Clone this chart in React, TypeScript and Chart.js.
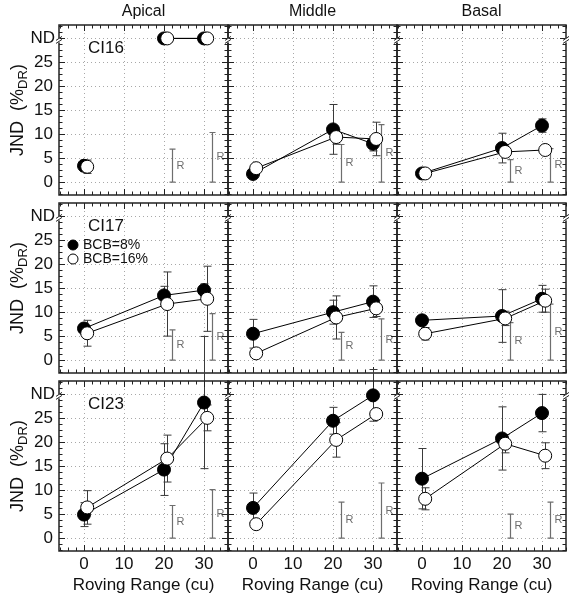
import React, { useEffect, useRef } from 'react';
import { Chart, registerables } from 'chart.js';

Chart.register(...registerables);

// ---------------- data ----------------
const SUBJECTS = ['CI16', 'CI17', 'CI23'];
const REGIONS = ['Apical', 'Middle', 'Basal'];
const ROVING = [0, 20, 30];
const OPEN_SHIFT = 0.8;
const ND = 30;
const Y_TICKS = [0, 5, 10, 15, 20, 25];
const Y_TICK_LABELS = ['0', '5', '10', '15', '20', '25'];
const X_TICKS = [0, 10, 20, 30];
const X_TICK_LABELS = ['0', '10', '20', '30'];
const R_X = [22, 32];

// [apical, middle, basal] for each subject
const CI16_BCB8 = [[3.4, ND, ND], [1.7, 11.0, 8.0], [1.8, 7.1, 11.8]];
const CI16_BCB16 = [[3.2, ND, ND], [2.9, 9.4, 9.0], [1.8, 6.3, 6.7]];
const CI17_BCB8 = [[6.6, 13.5, 14.6], [5.5, 10.0, 12.2], [8.3, 9.2, 12.8]];
const CI17_BCB16 = [[5.6, 11.7, 12.8], [1.4, 8.9, 10.8], [5.5, 8.7, 12.4]];
const CI23_BCB8 = [[4.9, 14.3, 28.3], [6.3, 24.5, 29.8], [12.4, 20.8, 26.1]];
const CI23_BCB16 = [[6.4, 16.6, 25.1], [2.9, 20.5, 25.9], [8.2, 19.7, 17.2]];

// error half-widths
const CI16_ERR8 = [[1.2, 0, 0], [0.5, 5.2, 1.5], [0.3, 3.1, 1.4]];
const CI16_ERR16 = [[1.4, 0, 0], [0.8, 1.5, 3.5], [0.3, 1.0, 0.3]];
const CI17_ERR8 = [[1.1, 1.9, 1.3], [3.0, 2.5, 3.3], [1.0, 5.5, 2.8]];
const CI17_ERR16 = [[2.7, 6.7, 6.8], [0.3, 4.5, 1.7], [1.3, 1.5, 2.4]];
const CI23_ERR8 = [[2.5, 5.4, 13.8], [3.1, 2.8, 5.4], [6.3, 6.6, 3.9]];
const CI23_ERR16 = [[3.5, 4.9, 2.7], [0.3, 3.6, 1.0], [2.3, 1.9, 2.7]];

// reference (R) bar heights at roving 20 and 30
const CI16_R = [[6.9, 10.35], [7.85, 12.0], [4.7, 7.0]];
const CI17_R = [[6.3, 9.7], [5.8, 8.6], [7.8, 11.7]];
const CI23_R = [[6.8, 10.1], [7.5, 11.5], [5.0, 7.5]];

// no line between roving 0 and 20 (points at ND)
const CI16_GAP = [true, false, false];

const BCB8 = [CI16_BCB8, CI17_BCB8, CI23_BCB8];
const BCB16 = [CI16_BCB16, CI17_BCB16, CI23_BCB16];
const ERR8 = [CI16_ERR8, CI17_ERR8, CI23_ERR8];
const ERR16 = [CI16_ERR16, CI17_ERR16, CI23_ERR16];
const RBARS = [CI16_R, CI17_R, CI23_R];
const GAPS = [CI16_GAP, [false, false, false], [false, false, false]];

// ---------------- layout ----------------
const PAGE_W = 579;
const PAGE_H = 600;
const COL_LEFT = [59, 228, 397];
const ROW_TOP = [25, 203, 381];
const PW = 169;
const PH = 170;
const X_MIN = -6.25, X_MAX = 36;
const Y_MIN = -2.7, Y_MAX = 32.8;
const FONT = "'Liberation Sans', Arial, Helvetica, sans-serif";
const ERR_COLOR = '#3a3a3a';
const R_COLOR = '#6e6e6e';

function makePlugin(row: number, col: number) {
  return {
    id: 'panel_' + row + '_' + col,
    beforeDatasetsDraw(chart: any) {
      const { ctx, chartArea: a, scales } = chart;
      const xs = scales.x, ys = scales.y;
      ctx.save();
      // grid
      ctx.strokeStyle = '#a8a8a8';
      ctx.lineWidth = 1;
      ctx.setLineDash([1, 3]);
      for (const gx of X_TICKS) {
        const px = Math.round(xs.getPixelForValue(gx)) + 0.5;
        ctx.beginPath(); ctx.moveTo(px, a.top); ctx.lineTo(px, a.bottom); ctx.stroke();
      }
      for (const gy of [...Y_TICKS, ND]) {
        const py = Math.round(ys.getPixelForValue(gy)) + 0.5;
        ctx.beginPath(); ctx.moveTo(a.left, py); ctx.lineTo(a.right, py); ctx.stroke();
      }
      ctx.setLineDash([]);
      // R bars
      const rb = RBARS[row][col];
      ctx.strokeStyle = R_COLOR;
      ctx.fillStyle = R_COLOR;
      ctx.lineWidth = 1.2;
      ctx.font = `11px ${FONT}`;
      ctx.textBaseline = 'middle';
      ctx.textAlign = 'left';
      R_X.forEach((rx, i) => {
        const px = Math.round(xs.getPixelForValue(rx)) + 0.5;
        const p0 = ys.getPixelForValue(0);
        const p1 = ys.getPixelForValue(rb[i]);
        ctx.beginPath();
        ctx.moveTo(px, p0); ctx.lineTo(px, p1);
        ctx.moveTo(px - 3, p0); ctx.lineTo(px + 3, p0);
        ctx.moveTo(px - 3, p1); ctx.lineTo(px + 3, p1);
        ctx.stroke();
        ctx.fillText('R', px + 4, (p0 + p1) / 2);
      });
      // error bars
      ctx.strokeStyle = ERR_COLOR;
      ctx.lineWidth = 1;
      const drawErr = (vals: number[], errs: number[], shift: number) => {
        ROVING.forEach((rx, i) => {
          const e = errs[i];
          if (!e) return;
          const px = Math.round(xs.getPixelForValue(rx + shift)) + 0.5;
          const pLo = ys.getPixelForValue(vals[i] - e);
          const pHi = ys.getPixelForValue(vals[i] + e);
          ctx.beginPath();
          ctx.moveTo(px, pLo); ctx.lineTo(px, pHi);
          ctx.moveTo(px - 4, pLo); ctx.lineTo(px + 4, pLo);
          ctx.moveTo(px - 4, pHi); ctx.lineTo(px + 4, pHi);
          ctx.stroke();
        });
      };
      drawErr(BCB8[row][col], ERR8[row][col], 0);
      drawErr(BCB16[row][col], ERR16[row][col], OPEN_SHIFT);
      ctx.restore();
    },
    afterDatasetsDraw(chart: any) {
      const { ctx, chartArea: a, scales } = chart;
      const xs = scales.x, ys = scales.y;
      ctx.save();
      // frame
      ctx.strokeStyle = '#222';
      ctx.lineWidth = 1.5;
      ctx.strokeRect(a.left, a.top, a.right - a.left, a.bottom - a.top);
      // ticks
      ctx.lineWidth = 1;
      ctx.beginPath();
      for (let v = -2.5; v <= 32.5 + 1e-6; v += 1.25) {
        const py = Math.round(ys.getPixelForValue(v)) + 0.5;
        const major = Math.abs(v / 5 - Math.round(v / 5)) < 1e-6;
        const len = major ? 6 : 3.5;
        ctx.moveTo(a.left, py); ctx.lineTo(a.left + len, py);
        ctx.moveTo(a.right, py); ctx.lineTo(a.right - len, py);
      }
      for (let v = -6; v <= 36 + 1e-6; v += 2) {
        const px = Math.round(xs.getPixelForValue(v)) + 0.5;
        const major = Math.abs(v / 10 - Math.round(v / 10)) < 1e-6;
        const len = major ? 6 : 3.5;
        ctx.moveTo(px, a.bottom); ctx.lineTo(px, a.bottom - len);
        ctx.moveTo(px, a.top); ctx.lineTo(px, a.top + len);
      }
      ctx.stroke();
      // axis break marks near ND
      const breakAt = (bx: number) => {
        const by = ys.getPixelForValue(ND) + 2;
        ctx.fillStyle = '#fff';
        ctx.fillRect(bx - 1, by - 2, 2, 4);
        ctx.strokeStyle = '#222';
        ctx.lineWidth = 1;
        ctx.beginPath();
        ctx.moveTo(bx - 3, by); ctx.lineTo(bx + 3, by - 4);
        ctx.moveTo(bx - 3, by + 3); ctx.lineTo(bx + 3, by - 1);
        ctx.stroke();
      };
      breakAt(a.left);
      if (col === 2) breakAt(a.right);

      ctx.fillStyle = '#111';
      // column titles
      if (row === 0) {
        ctx.font = `16px ${FONT}`;
        ctx.textAlign = 'center';
        ctx.textBaseline = 'middle';
        ctx.fillText(REGIONS[col], (a.left + a.right) / 2, a.top - 13);
      }
      // y tick labels and title
      if (col === 0) {
        ctx.font = `17px ${FONT}`;
        ctx.textAlign = 'right';
        ctx.textBaseline = 'middle';
        Y_TICKS.forEach((v, i) => ctx.fillText(Y_TICK_LABELS[i], a.left - 6, ys.getPixelForValue(v)));
        ctx.fillText('ND', a.left - 4, ys.getPixelForValue(ND));
        // rotated y title with subscript
        const main1 = 'JND  (%';
        const sub = 'DR';
        const main2 = ')';
        ctx.font = `18px ${FONT}`;
        const w1 = ctx.measureText(main1).width;
        const w3 = ctx.measureText(main2).width;
        ctx.font = `13px ${FONT}`;
        const w2 = ctx.measureText(sub).width;
        const total = w1 + w2 + w3;
        ctx.translate(18, (a.top + a.bottom) / 2);
        ctx.rotate(-Math.PI / 2);
        ctx.textAlign = 'left';
        ctx.textBaseline = 'middle';
        let cx = -total / 2;
        ctx.font = `18px ${FONT}`;
        ctx.fillText(main1, cx, 0); cx += w1;
        ctx.font = `13px ${FONT}`;
        ctx.fillText(sub, cx, 5); cx += w2;
        ctx.font = `18px ${FONT}`;
        ctx.fillText(main2, cx, 0);
        ctx.setTransform(1, 0, 0, 1, 0, 0);
        // subject label
        ctx.font = `17px ${FONT}`;
        ctx.textAlign = 'left';
        ctx.fillText(SUBJECTS[row], a.left + 29, a.top + 23);
      }
      // legend
      if (row === 1 && col === 0) {
        const lx = a.left + 14;
        const items = [{ t: 'BCB=8%', f: '#000', y: a.top + 42 }, { t: 'BCB=16%', f: '#fff', y: a.top + 56 }];
        ctx.font = `14px ${FONT}`;
        ctx.textAlign = 'left';
        ctx.textBaseline = 'middle';
        items.forEach(it => {
          ctx.beginPath();
          ctx.arc(lx, it.y, 5, 0, Math.PI * 2);
          ctx.fillStyle = it.f;
          ctx.fill();
          ctx.strokeStyle = '#000';
          ctx.lineWidth = 1;
          ctx.stroke();
          ctx.fillStyle = '#111';
          ctx.fillText(it.t, lx + 10, it.y);
        });
      }
      // x tick labels and title
      if (row === 2) {
        ctx.fillStyle = '#111';
        ctx.font = `17px ${FONT}`;
        ctx.textAlign = 'center';
        ctx.textBaseline = 'middle';
        X_TICKS.forEach((v, i) => ctx.fillText(X_TICK_LABELS[i], xs.getPixelForValue(v), a.bottom + 13));
        ctx.font = `17px ${FONT}`;
        ctx.fillText('Roving Range (cu)', (a.left + a.right) / 2, a.bottom + 34);
      }
      ctx.restore();
    },
  };
}

function Panel({ row, col }: { row: number; col: number }) {
  const ref = useRef<HTMLCanvasElement | null>(null);
  useEffect(() => {
    const L = COL_LEFT[col];
    const T = ROW_TOP[row];
    const gap = GAPS[row][col];
    const segColor = (c: any) => (gap && c.p0DataIndex === 0 ? 'rgba(0,0,0,0)' : '#000');
    const chart = new Chart(ref.current as HTMLCanvasElement, {
      type: 'line',
      data: {
        datasets: [
          {
            label: 'BCB=16%',
            data: ROVING.map((x, i) => ({ x: x + OPEN_SHIFT, y: BCB16[row][col][i] })),
            borderColor: '#000',
            borderWidth: 1,
            pointRadius: 6.5,
            pointBackgroundColor: '#fff',
            pointBorderColor: '#000',
            pointBorderWidth: 1,
            clip: false as any,
            segment: { borderColor: segColor },
          },
          {
            label: 'BCB=8%',
            data: ROVING.map((x, i) => ({ x, y: BCB8[row][col][i] })),
            borderColor: '#000',
            borderWidth: 1,
            pointRadius: 6.5,
            pointBackgroundColor: '#000',
            pointBorderColor: '#000',
            pointBorderWidth: 1,
            clip: false as any,
            segment: { borderColor: segColor },
          },
        ],
      },
      options: {
        responsive: false,
        animation: false,
        devicePixelRatio: 1,
        events: [],
        layout: {
          padding: { left: L, top: T, right: PAGE_W - L - PW, bottom: PAGE_H - T - PH },
        },
        scales: {
          x: { type: 'linear', min: X_MIN, max: X_MAX, display: false },
          y: { type: 'linear', min: Y_MIN, max: Y_MAX, display: false },
        },
        plugins: { legend: { display: false }, tooltip: { enabled: false } },
      },
      plugins: [makePlugin(row, col) as any],
    });
    return () => chart.destroy();
  }, [row, col]);
  return (
    <canvas
      ref={ref}
      width={PAGE_W}
      height={PAGE_H}
      style={{ position: 'absolute', left: 0, top: 0, width: PAGE_W, height: PAGE_H }}
    />
  );
}

export default function App() {
  const cells: React.ReactNode[] = [];
  for (let r = 0; r < 3; r++) for (let c = 0; c < 3; c++) cells.push(<Panel key={r + '-' + c} row={r} col={c} />);
  return (
    <div style={{ position: 'absolute', left: 0, top: 0, width: PAGE_W, height: PAGE_H, background: '#fff', overflow: 'hidden' }}>
      {cells}
    </div>
  );
}
